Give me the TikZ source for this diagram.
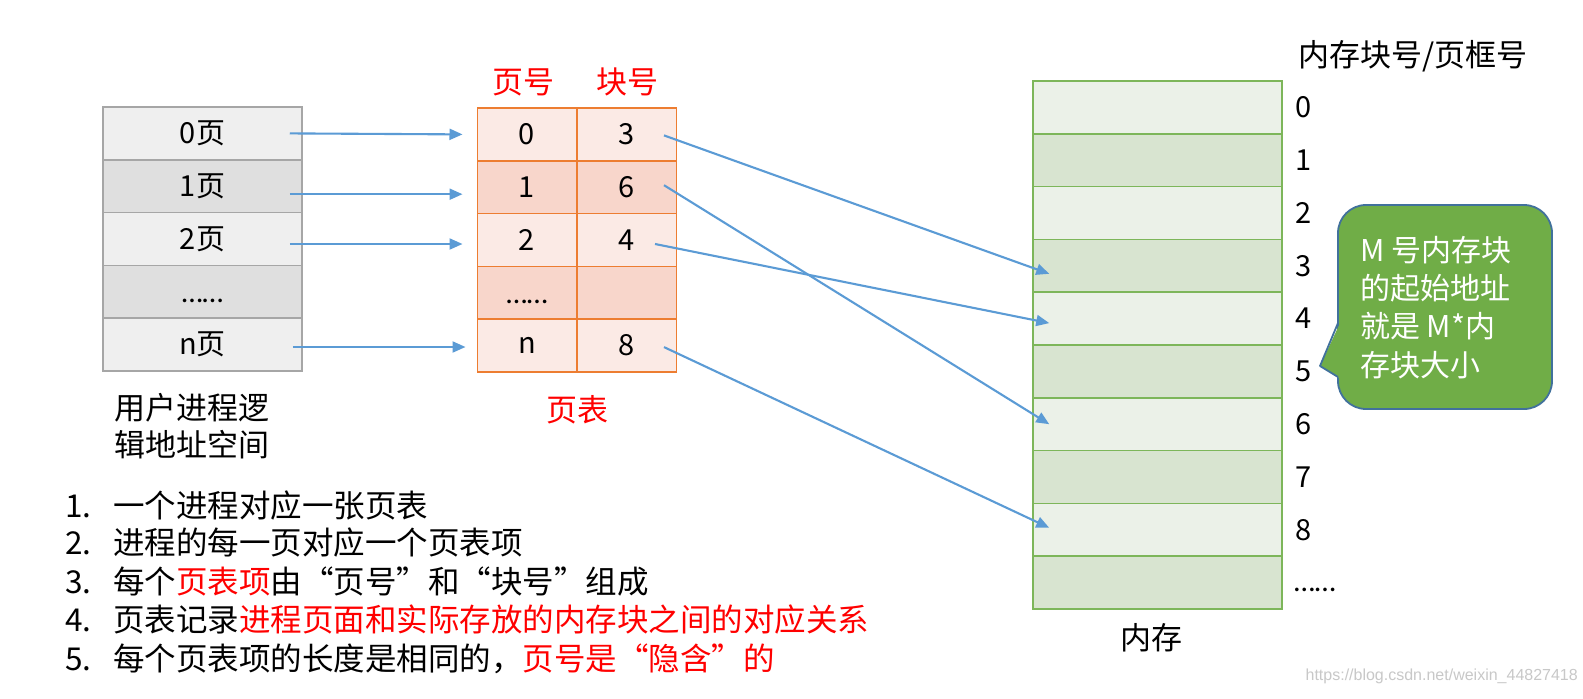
\documentclass[tikz,border=0pt]{standalone}
\usepackage{fontspec}
\setmainfont{Noto Sans CJK SC}
\newfontfamily\wmfont{Liberation Sans}
\newfontfamily\calfont{Carlito}
\usetikzlibrary{arrows.meta,calc}
\definecolor{arrblue}{HTML}{5B9BD5}
\definecolor{orng}{HTML}{ED7D31}
\definecolor{ptlight}{HTML}{FBEAE5}
\definecolor{ptdark}{HTML}{F8D6CB}
\definecolor{grlight}{HTML}{EFEFEF}
\definecolor{grdark}{HTML}{DFDFDF}
\definecolor{grline}{HTML}{A6A6A6}
\definecolor{mlight}{HTML}{EBF1E8}
\definecolor{mdark}{HTML}{D8E4D0}
\definecolor{mline}{HTML}{7DB65A}
\definecolor{callfill}{HTML}{70AD47}
\definecolor{callline}{HTML}{41719C}
\definecolor{wmgray}{HTML}{C8C8C8}
\newcommand{\lqq}{\makebox[1em][r]{“}}
\newcommand{\rqq}{\makebox[1em][l]{”}}
\newcommand{\mydots}{\vphantom{0}{\calfont\fontsize{30}{34}\selectfont ……}}
\begin{document}
\begin{tikzpicture}[x=1pt,y=-1pt,
  cellfont/.style={font=\fontsize{29}{34}\selectfont},
  lcell/.style={cellfont,draw=grline,line width=1.5pt,minimum width=199pt,minimum height=52.8pt,inner sep=0pt},
  pcell/.style={cellfont,draw=orng,line width=1.5pt,minimum width=99.5pt,minimum height=52.8pt,inner sep=0pt},
  mcell/.style={draw=mline,line width=1.5pt,minimum width=249pt,minimum height=52.8pt,inner sep=0pt},
  numlab/.style={cellfont,inner sep=0pt},
  lab/.style={font=\fontsize{31}{37}\selectfont,inner sep=0pt},
  redlab/.style={lab,text=red},
  listitem/.style={font=\fontsize{31.5}{38}\selectfont,inner sep=0pt,anchor=base west},
  calltext/.style={font=\fontsize{30}{36}\selectfont,inner sep=0pt,anchor=base west,text=white},
  arr/.style={draw=arrblue,line width=2.1pt,-{Triangle[length=13pt,width=11pt]}}
]
\fill[white] (0,0) rectangle (1583,699);
\useasboundingbox (0,0) rectangle (1583,699);

% left table (user logical address space)
\node[lcell,fill=grlight] (L0) at (202.5,133.4) {0页};
\node[lcell,fill=grdark]  (L1) at (202.5,186.2) {1页};
\node[lcell,fill=grlight] (L2) at (202.5,239.0) {2页};
\node[lcell,fill=grdark]  (L3) at (202.5,291.8) {\mydots};
\node[lcell,fill=grlight] (L4) at (202.5,344.6) {n页};
\node[lab,anchor=base west] (ul1) at (114,419) {用户进程逻};
\node[lab,anchor=base west] (ul2) at (114,456) {辑地址空间};

% page table
\node[redlab] (hp) at (523,82) {页号};
\node[redlab] (hb) at (627,82) {块号};
\node[pcell,fill=ptlight] (P0) at (527,134.4) {0};
\node[pcell,fill=ptdark]  (P1) at (527,187.2) {1};
\node[pcell,fill=ptlight] (P2) at (527,240.0) {2};
\node[pcell,fill=ptdark]  (P3) at (527,292.8) {\mydots};
\node[pcell,fill=ptlight] (P4) at (527,345.6) {n};
\node[pcell,fill=ptlight] (B0) at (626.5,134.4) {3};
\node[pcell,fill=ptdark]  (B1) at (626.5,187.2) {6};
\node[pcell,fill=ptlight] (B2) at (626.5,240.0) {4};
\node[pcell,fill=ptdark]  (B3) at (626.5,292.8) {};
\node[pcell,fill=ptlight] (B4) at (626.5,345.6) {8};
\node[redlab] (pt) at (577,410) {页表};

% memory
\foreach \k in {0,...,9}{
  \pgfmathsetmacro{\yy}{107.4+52.8*\k}
  \ifodd\k
    \node[mcell,fill=mdark] (M\k) at (1157.5,\yy) {};
  \else
    \node[mcell,fill=mlight] (M\k) at (1157.5,\yy) {};
  \fi
}
\foreach \k in {0,...,8}{
  \pgfmathsetmacro{\yy}{107.4+52.8*\k}
  \node[numlab] (N\k) at (1304,\yy) {\k};
}
\node[numlab,anchor=west] (N9) at (1294,581) {\mydots};
\node[lab,anchor=west] (mh) at (1298,56) {内存块号/页框号};
\node[lab] (mem) at (1151,638) {内存};

% arrows: logical pages -> page table
\draw[arr] ($(L0.east)+(-13,0)$) -- ($(P0.west)+(-14,0)$);
\draw[arr] ($(L1.east)+(-13,8)$) -- ($(P1.west)+(-14,7)$);
\draw[arr] ($(L2.east)+(-13,5)$) -- ($(P2.west)+(-14,4)$);
\draw[arr] ($(L4.east)+(-10,2.4)$) -- ($(P4.west)+(-11,1.4)$);

% arrows: page table -> memory blocks
\draw[arr] ($(B0.east)+(-13,1)$) -- ($(M3.west)+(17,8)$);
\draw[arr] ($(B1.east)+(-13,-2)$) -- ($(M6.west)+(17,0)$);
\draw[arr] ($(B2.east)+(-22,4)$) -- ($(M4.west)+(17,4.5)$);
\draw[arr] ($(B4.east)+(-13,1.5)$) -- ($(M8.west)+(17,-2)$);

% callout
\node[draw=callline,fill=callfill,line width=1.8pt,rounded corners=28pt,minimum width=214pt,minimum height=204pt,inner sep=0pt] (call) at (1445,307) {};
\coordinate (tipA) at (1338,323);
\coordinate (tip) at (1320,366);
\coordinate (tipB) at (1338,377);
\fill[callfill] (1341,321) -- (tip) -- (1341,379) -- cycle;
\draw[callline,line width=1.8pt,line join=round] (tipA) -- (tip) -- (tipB);
\node[calltext] (ct1) at (1360,261) {M 号内存块};
\node[calltext] (ct2) at (1360,299) {的起始地址};
\node[calltext] (ct3) at (1360,337) {就是 M*内};
\node[calltext] (ct4) at (1360,376) {存块大小};

% list
\node[listitem] (li1) at (65,517) {\makebox[48pt][l]{1.}一个进程对应一张页表};
\node[listitem] (li2) at (65,554) {\makebox[48pt][l]{2.}进程的每一页对应一个页表项};
\node[listitem] (li3) at (65,593) {\makebox[48pt][l]{3.}每个\textcolor{red}{页表项}由\lqq 页号\rqq 和\lqq 块号\rqq 组成};
\node[listitem] (li4) at (65,631) {\makebox[48pt][l]{4.}页表记录\textcolor{red}{进程页面和实际存放的内存块之间的对应关系}};
\node[listitem] (li5) at (65,670) {\makebox[48pt][l]{5.}每个页表项的长度是相同的，\textcolor{red}{页号是\lqq 隐含\rqq 的}};

% watermark
\node[font=\wmfont\fontsize{16}{16}\selectfont,text=wmgray,anchor=east,inner sep=0pt] (wm) at (1578,676) {https://blog.csdn.net/weixin\_44827418};
\end{tikzpicture}
\end{document}
